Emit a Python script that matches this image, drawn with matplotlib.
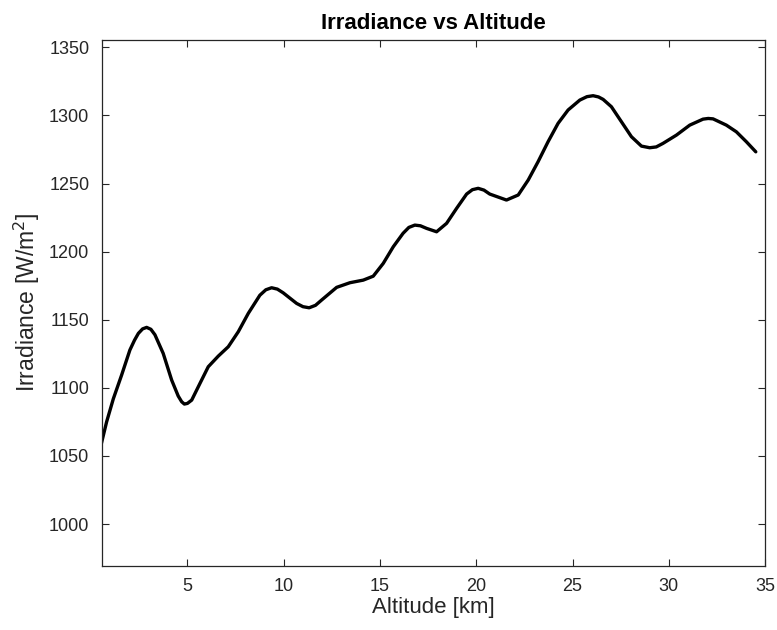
import matplotlib
matplotlib.use('Agg')
import matplotlib.pyplot as plt

# altitude [km] and irradiance [W/m^2]
altitude = [0.51, 0.80, 1.15, 1.58, 2.01, 2.25, 2.45, 2.67, 2.88, 3.10, 3.31, 3.74, 4.18,
            4.52, 4.70, 4.84, 5.00, 5.22, 5.65, 6.08, 6.60, 7.12, 7.64, 8.16, 8.76,
            9.07, 9.37, 9.67, 9.97, 10.67, 11.00, 11.32, 11.65, 11.97, 12.75, 13.44, 14.13, 14.65, 15.17,
            15.69, 16.20, 16.50, 16.81, 17.10, 17.42, 17.94, 18.46, 18.98, 19.50, 19.80, 20.10, 20.40, 20.70,
            21.57, 22.18, 22.70, 23.21, 23.73, 24.25, 24.77, 25.38, 25.75, 26.07, 26.35, 26.59,
            27.02, 27.54, 28.06, 28.58, 29.01, 29.35, 29.70, 30.40, 31.09, 31.78, 32.05, 32.30,
            32.99, 33.51, 34.03, 34.52]
irradiance = [1058, 1075, 1092, 1109.4, 1127.8, 1135, 1140, 1143.3, 1144.4, 1143, 1139, 1125.3, 1105.7,
              1094, 1089.8, 1088.1, 1088.6, 1091, 1103.3, 1115.5, 1123.3, 1130.2, 1141.2, 1154.7, 1168,
              1172, 1173.5, 1172.5, 1169.8, 1162, 1159.6, 1158.8, 1160.6, 1164.5, 1173.8, 1177.2, 1179.1, 1182, 1191.4,
              1203.6, 1213.5, 1217.8, 1219.5, 1219, 1217.1, 1214.6, 1220.8, 1231.8, 1242.3, 1245.5, 1246.5, 1245.2, 1242.3,
              1237.9, 1241.6, 1252.6, 1266, 1280.7, 1294.2, 1304, 1311.3, 1313.8, 1314.5, 1313.6, 1311.8,
              1306.4, 1295.4, 1284.4, 1277.5, 1276.3, 1276.9, 1279.5, 1285.6, 1292.9, 1297.3, 1297.8, 1297.5,
              1292.9, 1288, 1280.7, 1273.3]

xticks = [5, 10, 15, 20, 25, 30, 35]
yticks = [1000, 1050, 1100, 1150, 1200, 1250, 1300, 1350]

plt.rcParams['font.family'] = ['Liberation Sans', 'DejaVu Sans']
grey = '#262626'

fig = plt.figure(figsize=(7.77, 6.3), dpi=100)
ax = fig.add_axes([0.131, 0.102, 0.8536, 0.8345])
ax.plot(altitude, irradiance, color='black', linewidth=2.4,
        solid_joinstyle='round', solid_capstyle='round')

ax.set_xlim(0.55, 35)
ax.set_ylim(969.4, 1355.4)
ax.set_xticks(xticks)
ax.set_yticks(yticks)
ax.tick_params(direction='in', top=True, right=True, length=5, width=0.8,
               colors=grey, labelsize=13, pad=9)
for s in ax.spines.values():
    s.set_color(grey)
    s.set_linewidth(0.9)

ax.set_title('Irradiance vs Altitude', fontsize=16, fontweight='bold', pad=8)
ax.set_xlabel('Altitude [km]', fontsize=16, color=grey, labelpad=1)
ax.set_ylabel('Irradiance [W/m$^2$]', fontsize=16.5, color=grey, labelpad=5)

fig.savefig('out.png', dpi=100)
